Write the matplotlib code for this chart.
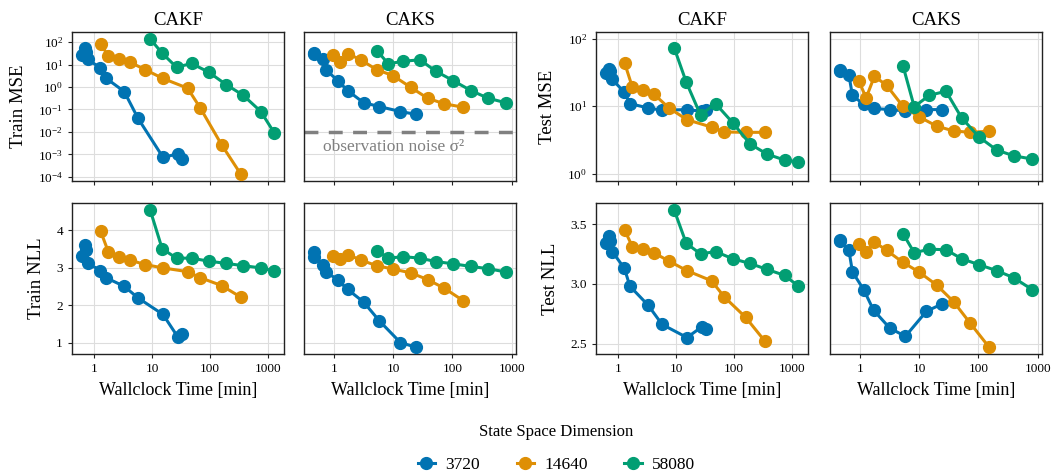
import matplotlib
matplotlib.use("Agg")
import matplotlib.pyplot as plt
import matplotlib.ticker as mticker

plt.rcParams['font.family'] = ['Liberation Serif', 'DejaVu Serif']
plt.rcParams['mathtext.fontset'] = 'custom'
plt.rcParams['mathtext.rm'] = 'Liberation Serif'

dims = ['3720', '14640', '58080']
colors = ['#0173b2', '#de8f05', '#029e73']

# wallclock time [min]
t_cakf_3720 = [0.6, 0.68, 0.71, 0.78, 1.27, 1.58, 3.28, 5.7, 15.4, 27.8, 33]
t_cakf_14640 = [1.28, 1.75, 2.67, 4.1, 7.5, 15.4, 41, 68, 159, 343]
t_cakf_58080 = [9.2, 14.9, 26.4, 48, 95, 191, 376, 761, 1300]
t_caks_3720 = [0.45, 0.46, 0.645, 0.74, 1.15, 1.68, 3.15, 5.8, 13.2, 23.9]
t_caks_14640 = [0.95, 1.26, 1.74, 2.8, 5.25, 9.8, 19.6, 38, 72.5, 151]
t_caks_58080 = [5.3, 8.2, 14.8, 28.2, 52, 102, 204, 398, 815]

# CAKF
train_mse_cakf_3720 = [27, 54, 38, 17, 6.9, 2.5, 0.63, 0.04, 7.4e-4, 1.05e-3, 6e-4]
train_mse_cakf_14640 = [85, 23.7, 17, 12.9, 6.0, 2.4, 0.89, 0.117, 2.7e-3, 1.3e-4]
train_mse_cakf_58080 = [141, 32, 7.6, 11.2, 4.6, 1.28, 0.43, 0.081, 0.009]
train_nll_cakf_3720 = [3.30, 3.61, 3.47, 3.11, 2.92, 2.73, 2.50, 2.19, 1.75, 1.15, 1.22]
train_nll_cakf_14640 = [3.97, 3.41, 3.27, 3.20, 3.08, 2.99, 2.89, 2.73, 2.52, 2.21]
train_nll_cakf_58080 = [4.54, 3.50, 3.25, 3.25, 3.17, 3.11, 3.05, 2.99, 2.91]
test_mse_cakf_3720 = [31, 36, 33, 25, 16, 10.9, 9.4, 8.7, 8.9, 8.4, 8.9]
test_mse_cakf_14640 = [43.6, 18.9, 17.2, 15.1, 9.4, 6.3, 4.9, 4.15, 4.1, 4.1]
test_mse_cakf_58080 = [73.6, 22.8, 7.4, 10.9, 5.7, 2.75, 1.95, 1.59, 1.5]
test_nll_cakf_3720 = [3.34, 3.40, 3.36, 3.27, 3.13, 2.98, 2.82, 2.66, 2.55, 2.64, 2.62]
test_nll_cakf_14640 = [3.45, 3.31, 3.29, 3.26, 3.19, 3.11, 3.025, 2.89, 2.72, 2.52]
test_nll_cakf_58080 = [3.62, 3.34, 3.25, 3.27, 3.21, 3.17, 3.12, 3.07, 2.98]

# CAKS
train_mse_caks_3720 = [33, 30, 18.4, 5.5, 1.95, 0.70, 0.20, 0.135, 0.081, 0.061]
train_mse_caks_14640 = [28, 12.8, 30, 16.3, 5.9, 3.25, 0.98, 0.316, 0.18, 0.126]
train_mse_caks_58080 = [42, 10.8, 14.1, 16.3, 5.1, 1.95, 0.70, 0.32, 0.196]
train_nll_caks_3720 = [3.41, 3.27, 3.08, 2.88, 2.67, 2.42, 2.08, 1.58, 1.00, 0.88]
train_nll_caks_14640 = [3.32, 3.23, 3.34, 3.20, 3.05, 2.96, 2.86, 2.68, 2.45, 2.12]
train_nll_caks_58080 = [3.45, 3.25, 3.29, 3.25, 3.16, 3.10, 3.03, 2.97, 2.88]
test_mse_caks_3720 = [34, 33, 28.7, 14.4, 10.6, 9.25, 8.9, 8.5, 8.9, 8.9]
test_mse_caks_14640 = [23.7, 13.2, 27.7, 20.3, 10, 7.0, 5.07, 4.3, 4.1, 4.26]
test_mse_caks_58080 = [39.4, 9.8, 14.5, 16.6, 6.7, 3.5, 2.24, 1.84, 1.65]
test_nll_caks_3720 = [3.37, 3.36, 3.28, 3.10, 2.95, 2.78, 2.63, 2.56, 2.77, 2.83]
test_nll_caks_14640 = [3.33, 3.27, 3.35, 3.28, 3.18, 3.10, 2.99, 2.85, 2.67, 2.47]
test_nll_caks_58080 = [3.42, 3.26, 3.29, 3.285, 3.21, 3.16, 3.11, 3.05, 2.95]

noise_var = 1e-2

times = {'CAKF': [t_cakf_3720, t_cakf_14640, t_cakf_58080],
         'CAKS': [t_caks_3720, t_caks_14640, t_caks_58080]}
metrics = {
    ('train_mse', 'CAKF'): [train_mse_cakf_3720, train_mse_cakf_14640, train_mse_cakf_58080],
    ('train_nll', 'CAKF'): [train_nll_cakf_3720, train_nll_cakf_14640, train_nll_cakf_58080],
    ('test_mse', 'CAKF'): [test_mse_cakf_3720, test_mse_cakf_14640, test_mse_cakf_58080],
    ('test_nll', 'CAKF'): [test_nll_cakf_3720, test_nll_cakf_14640, test_nll_cakf_58080],
    ('train_mse', 'CAKS'): [train_mse_caks_3720, train_mse_caks_14640, train_mse_caks_58080],
    ('train_nll', 'CAKS'): [train_nll_caks_3720, train_nll_caks_14640, train_nll_caks_58080],
    ('test_mse', 'CAKS'): [test_mse_caks_3720, test_mse_caks_14640, test_mse_caks_58080],
    ('test_nll', 'CAKS'): [test_nll_caks_3720, test_nll_caks_14640, test_nll_caks_58080],
}

fig = plt.figure(figsize=(10.52, 4.74), dpi=100)

lefts = [0.0684, 0.289, 0.5665, 0.789]
width = 0.2015
top_bottom, top_h = 0.618, 0.3145
bot_bottom, bot_h = 0.2532, 0.3188

axes = {}
# (column, method, train/test)
cols = [('CAKF', 'train'), ('CAKS', 'train'), ('CAKF', 'test'), ('CAKS', 'test')]
for c, (method, split) in enumerate(cols):
    share_row = axes.get((c - 1, 0)) if c in (1, 3) else None
    share_row_b = axes.get((c - 1, 1)) if c in (1, 3) else None
    ax_t = fig.add_axes([lefts[c], top_bottom, width, top_h], sharey=share_row)
    ax_b = fig.add_axes([lefts[c], bot_bottom, width, bot_h], sharex=ax_t, sharey=share_row_b)
    axes[(c, 0)] = ax_t
    axes[(c, 1)] = ax_b
    for r, (ax, kind) in enumerate([(ax_t, 'mse'), (ax_b, 'nll')]):
        ys = metrics[(split + '_' + kind, method)]
        for i in range(3):
            ax.plot(times[method][i], ys[i], '-o', color=colors[i], lw=2.2, ms=8.5,
                    label=dims[i], zorder=3)
        ax.set_xscale('log')
        if kind == 'mse':
            ax.set_yscale('log')
        ax.grid(True, color='#dddddd', lw=0.8, zorder=0)
        ax.minorticks_off()
        for sp in ax.spines.values():
            sp.set_color('#222222')
            sp.set_linewidth(1.0)
        ax.tick_params(labelsize=9.5, length=3, width=0.8, color='#222222')
        if r == 0:
            ax.set_title(method, fontsize=13.5, pad=5)
            ax.tick_params(labelbottom=False)
        else:
            ax.set_xlabel('Wallclock Time [min]', fontsize=13, labelpad=5)
            ax.xaxis.set_major_locator(mticker.FixedLocator([1, 10, 100, 1000]))
            ax.xaxis.set_major_formatter(mticker.FixedFormatter(['1', '10', '100', '1000']))
        if c in (1, 3):
            ax.tick_params(labelleft=False, left=False)
        else:
            label = ('Train ' if split == 'train' else 'Test ') + kind.upper()
            ax.set_ylabel(label, fontsize=13.5, labelpad=8)

axes[(2, 0)].set_ylim(0.78, 125)
axes[(0, 0)].yaxis.set_major_locator(mticker.LogLocator(base=10, numticks=20))
axes[(2, 0)].yaxis.set_major_locator(mticker.LogLocator(base=10, numticks=20))
for c in range(4):
    axes[(c, 0)].minorticks_off()
    axes[(c, 1)].minorticks_off()

# observation noise
ax = axes[(1, 0)]
ax.axhline(noise_var, color='#808080', lw=2.5, ls=(0, (4, 3)), zorder=2)
ax.text(0.09, 0.23, 'observation noise σ²', transform=ax.transAxes, color='#808080',
        fontsize=12.5, ha='left', va='center')

handles, labels = axes[(0, 0)].get_legend_handles_labels()
leg = fig.legend(handles, labels, loc='lower center', bbox_to_anchor=(0.529, -0.03), ncol=3,
                 frameon=False, title='State Space Dimension', fontsize=12.5,
                 title_fontsize=12, handlelength=1.0, columnspacing=2.1, handletextpad=0.6)
leg._legend_box.sep = 12

fig.savefig('out.png', dpi=100)
